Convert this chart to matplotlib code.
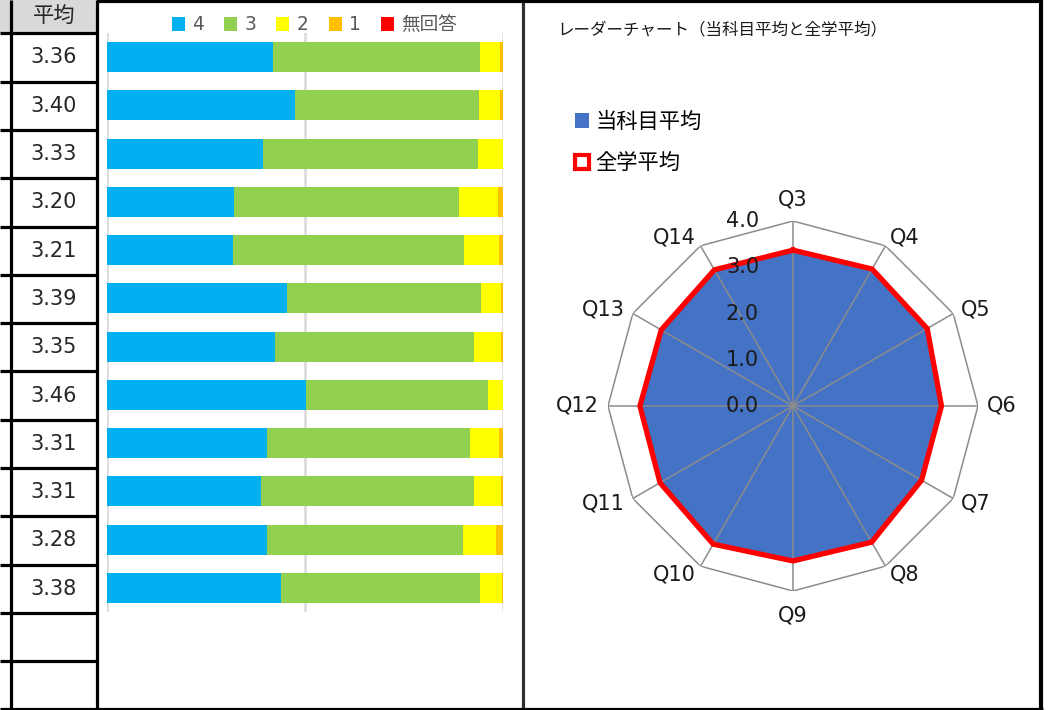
import matplotlib
matplotlib.use("Agg")
import matplotlib.pyplot as plt
import numpy as np
from matplotlib.patches import Patch, Rectangle

# DejaVu first for wide Latin digits, CJK falls back to Noto
plt.rcParams["font.family"] = ["DejaVu Sans", "Noto Sans CJK JP"]
CJK = ["Noto Sans CJK JP", "DejaVu Sans"]

# --- data -------------------------------------------------------------
questions = ["Q3", "Q4", "Q5", "Q6", "Q7", "Q8", "Q9", "Q10", "Q11", "Q12", "Q13", "Q14"]
averages = [3.36, 3.40, 3.33, 3.20, 3.21, 3.39, 3.35, 3.46, 3.31, 3.31, 3.28, 3.38]
school_avg = [3.37, 3.42, 3.35, 3.21, 3.21, 3.40, 3.35, 3.45, 3.32, 3.31, 3.29, 3.40]

answer_labels = ["4", "3", "2", "1", "無回答"]
answer_colors = ["#00B0F0", "#92D050", "#FFFF00", "#FFC000", "#FF0000"]
share_4 = [41.9, 47.5, 39.4, 32.1, 31.8, 45.5, 42.4, 50.3, 40.4, 38.9, 40.4, 43.9]
share_3 = [52.3, 46.5, 54.3, 56.8, 58.3, 49.0, 50.3, 46.0, 51.3, 53.8, 49.5, 50.3]
share_2 = [5.1, 5.3, 6.3, 9.8, 8.8, 5.1, 6.8, 3.8, 7.3, 6.8, 8.3, 5.6]
share_1 = [0.7, 0.7, 0.0, 1.3, 1.1, 0.4, 0.5, 0.0, 1.0, 0.5, 1.8, 0.2]
share_na = [0.0, 0.0, 0.0, 0.0, 0.0, 0.0, 0.0, 0.0, 0.0, 0.0, 0.0, 0.0]
radar_ticks = [0.0, 1.0, 2.0, 3.0, 4.0]

W, H = 1049, 710
fig = plt.figure(figsize=(W / 100, H / 100), dpi=100)


def frac(x0, y0, w, h):
    """pixel box (top-left origin) -> figure fraction rect"""
    return [x0 / W, 1 - (y0 + h) / H, w / W, h / H]


# --- sheet grid (cell borders) -------------------------------------------
grid = fig.add_axes([0, 0, 1, 1])
grid.set_xlim(0, W)
grid.set_ylim(H, 0)
grid.axis("off")
grid.add_patch(Rectangle((0, 0), 97, 33, facecolor="#D9D9D9", edgecolor="none"))
row_h = 48.3
for k in range(14):
    y = 33.3 + k * row_h
    grid.plot([0, 97], [y, y], color="black", lw=2.3, solid_capstyle="butt")
for x in (11, 97):
    grid.plot([x, x], [0, H], color="black", lw=2.3, solid_capstyle="butt")
grid.plot([523, 523], [0, H], color="#303030", lw=2.3, solid_capstyle="butt")
grid.plot([1041, 1041], [0, H], color="black", lw=3.0, solid_capstyle="butt")
grid.plot([97, 1043], [1, 1], color="black", lw=3.0, solid_capstyle="butt")
grid.plot([0, 1043], [708.5, 708.5], color="black", lw=2.3, solid_capstyle="butt")
grid.text(54, 16, "平均", ha="center", va="center", fontsize=15.3, color="#262626", family=CJK)
for i, v in enumerate(averages):
    grid.text(54, 33.3 + row_h * (i + 0.5), f"{v:.2f}", ha="center", va="center",
              fontsize=15, color="#262626")

# --- stacked bar chart ---------------------------------------------------
ax = fig.add_axes(frac(107, 33, 396, 579))
series = [share_4, share_3, share_2, share_1, share_na]
ypos = np.arange(len(questions))
left = np.zeros(len(questions))
for values, label, color in zip(series, answer_labels, answer_colors):
    ax.barh(ypos, values, left=left, height=0.62, color=color, label=label, zorder=2)
    left += np.array(values)
ax.set_xlim(0, 100)
ax.set_ylim(len(questions) - 0.5, -0.5)
ax.set_xticks([0, 50, 100])
ax.set_yticks([])
ax.tick_params(length=0, labelbottom=False)
ax.grid(axis="x", color="#D9D9D9", lw=1.8, zorder=0)
for s in ax.spines.values():
    s.set_visible(False)
ax.patch.set_alpha(0)
ax.legend(loc="center", bbox_to_anchor=(0.524, 1.0 + 8 / 579), ncol=5, frameon=False,
          fontsize=13.4, labelcolor="#595959", handlelength=0.7, handleheight=0.7,
          handletextpad=0.38, columnspacing=1.1, borderaxespad=0)

# --- radar chart ---------------------------------------------------------
R = 185
rax = fig.add_axes(frac(793 - R, 406 - R, 2 * R, 2 * R), projection="polar")
rax.set_theta_zero_location("N")
rax.set_theta_direction(-1)
theta = np.deg2rad(np.arange(len(questions)) * 360 / len(questions))
closed = np.append(theta, theta[0])
rax.set_ylim(0, 4.0)
rax.grid(False)
rax.spines["polar"].set_visible(False)
rax.set_xticks([])
rax.set_yticks([])
rax.patch.set_alpha(0)
rax.plot(closed, [4.0] * len(closed), color="#8C8C8C", lw=1.1, zorder=1)
subj = np.append(averages, averages[0])
allv = np.append(school_avg, school_avg[0])
rax.fill(closed, subj, color="#4472C4", zorder=2, label="当科目平均")
rax.plot(closed, allv, color="#FF0000", lw=3.8, zorder=3, label="全学平均")
for t in theta:
    rax.plot([t, t], [0, 4.0], color="#8C8C8C", lw=1.1, zorder=2.5)
for q, t in zip(questions, theta):
    s, c = np.sin(t), np.cos(t)
    ha = "left" if s > 0.1 else ("right" if s < -0.1 else "center")
    va = "bottom" if c > 0.95 else ("top" if c < -0.95 else "center")
    gap = 11 if c > 0.95 else (14 if c < -0.95 else 9)
    rax.annotate(q, xy=(t, 4.0), xytext=(gap * s, gap * c), textcoords="offset pixels",
                 ha=ha, va=va, fontsize=15, color="#1a1a1a")
for v in radar_ticks:
    rax.annotate(f"{v:.1f}", xy=(0, v), xytext=(-34, 0), textcoords="offset pixels",
                 ha="right", va="center", fontsize=15, color="#1a1a1a", zorder=4)

fig.text(557 / W, 1 - 30 / H, "レーダーチャート（当科目平均と全学平均）", ha="left", va="center",
         fontsize=11.9, color="#1a1a1a", family=CJK)
handles = [Patch(facecolor="#4472C4", edgecolor="none"),
           Patch(facecolor="white", edgecolor="#FF0000", lw=3)]
leg = fig.legend(handles, ["当科目平均", "全学平均"], loc="upper left",
                 bbox_to_anchor=(575 / W, 1 - 111 / H), frameon=False, fontsize=15.3,
                 handlelength=0.65, handleheight=0.65, handletextpad=0.3, labelspacing=0.92,
                 borderaxespad=0, borderpad=0)
for txt in leg.get_texts():
    txt.set_family(CJK)

fig.savefig("out.png", dpi=100)
